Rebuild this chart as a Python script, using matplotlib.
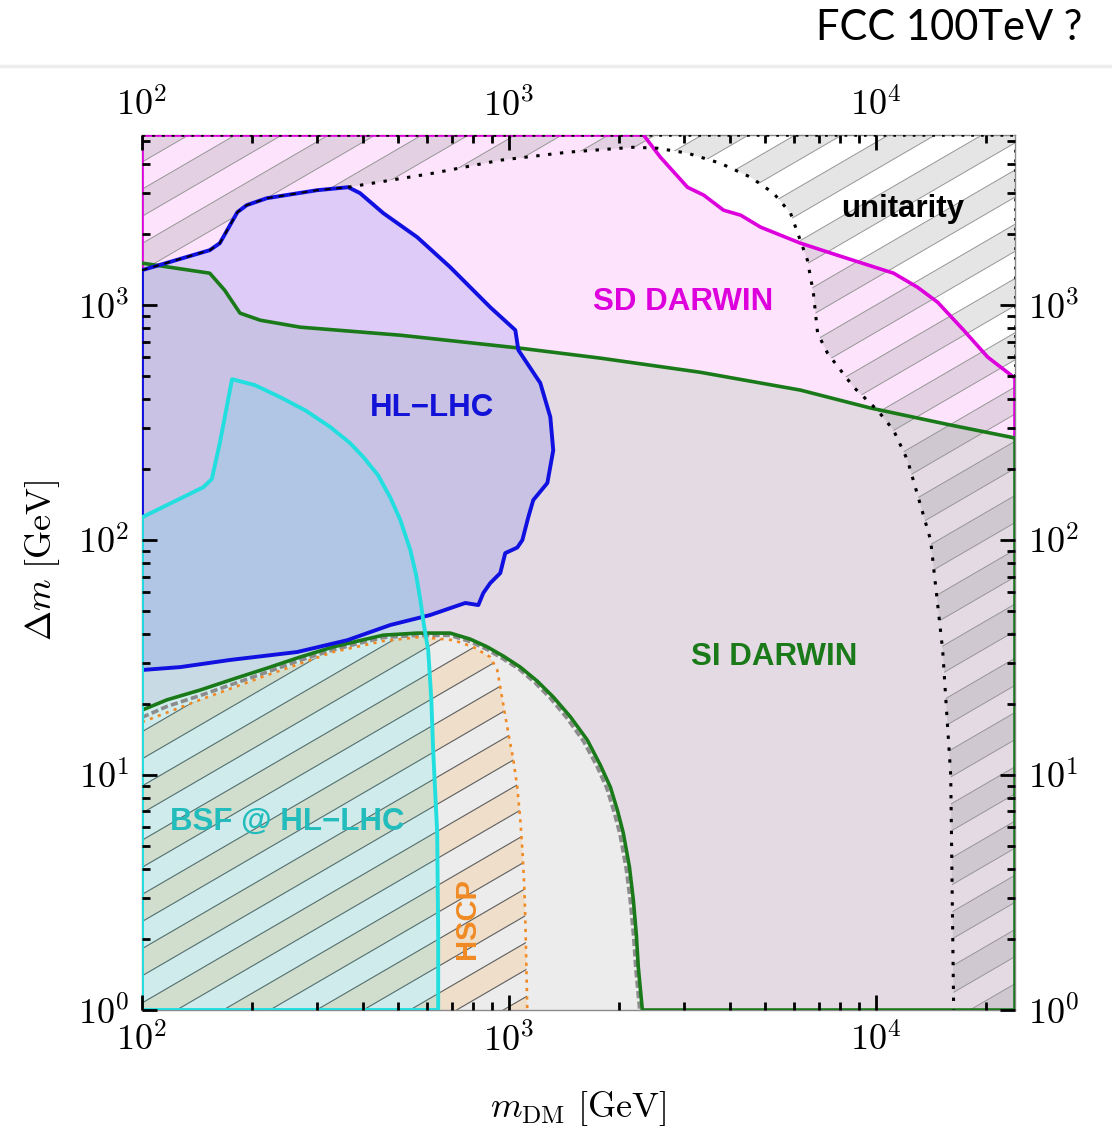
import numpy as np
import matplotlib
matplotlib.use("Agg")
import matplotlib.pyplot as plt
from matplotlib.patches import Polygon
from matplotlib.collections import LineCollection, PolyCollection
from matplotlib.lines import Line2D
from matplotlib.ticker import FixedLocator, FuncFormatter, LogLocator, NullFormatter

plt.rcParams["mathtext.fontset"] = "cm"

XMIN, XMAX = 100.0, 2.4e4
YMIN, YMAX = 1.0, 5300.0

# SD DARWIN reach (magenta), m_DM [GeV] vs Delta m [GeV]
sd_x = [2330, 2590, 3070, 3400, 3850, 4290, 4860, 6240, 8180, 11200, 13000,
        14760, 17380, 20220, 24000]
sd_y = [5300, 4265, 3177, 2940, 2537, 2415, 2148, 1836, 1600, 1368, 1193,
        1030, 783, 601, 489]

# SI DARWIN upper edge (green)
si_x = [100, 153, 168, 185, 210, 270, 506, 1075, 1778, 3330, 6240, 9680,
        16000, 24000]
si_y = [1510, 1368, 1158, 925, 863, 806, 745, 656, 595, 518, 435, 365, 309, 272]

# lower green dome (SI DARWIN lower edge)
dome_x = [100, 117, 144, 177, 219, 270, 332, 388, 455, 563, 692, 785, 874,
          966, 1075, 1196, 1322, 1472, 1637, 1778, 1892, 1977, 2052, 2133,
          2186, 2228, 2255, 2313]
dome_y = [18.9, 20.9, 23.0, 25.6, 28.5, 31.8, 35.1, 37.2, 39.4, 40.2, 40.2,
          37.9, 35.1, 32.1, 28.8, 25.1, 21.5, 17.7, 14.1, 11.0, 8.89, 7.10,
          5.67, 4.06, 2.94, 2.08, 1.52, 1.0]

# grey dashed boundary just inside the dome
gray_x = [100, 117, 144, 177, 219, 270, 332, 388, 455, 563, 692, 785, 874,
          966, 1065, 1180, 1300, 1440, 1600, 1740, 1850, 1935, 2010, 2090,
          2145, 2190, 2220, 2275]
gray_y = [17.6, 19.6, 21.8, 24.4, 27.4, 30.8, 34.1, 36.3, 38.5, 39.3, 39.3,
          37.0, 34.2, 31.2, 28.3, 24.7, 21.2, 17.5, 13.9, 10.9, 8.8, 7.0, 5.6,
          4.0, 2.9, 2.05, 1.5, 1.0]

# HSCP (orange dotted)
hscp_x = [100, 144, 219, 332, 455, 574, 707, 800, 890, 930, 948, 972, 997,
          1029, 1055, 1075, 1089, 1102, 1109, 1116, 1123]
hscp_y = [16.8, 20.9, 26.6, 33.4, 37.2, 38.7, 37.5, 35.1, 31.8, 28.0, 23.7,
          18.9, 15.1, 11.6, 8.89, 6.44, 4.80, 3.40, 2.49, 1.63, 1.0]

# HL-LHC: upper edge (shared with unitarity) and the rest of the contour
hl_top_x = [100, 153, 163, 182, 193, 219, 300, 365]
hl_top_y = [1409, 1714, 1836, 2488, 2665, 2853, 3085, 3177]
hl_x = [393, 455, 563, 692, 890, 1042, 1062, 1219, 1298, 1322, 1274, 1166,
        1130, 1089, 1055, 978, 948, 890, 852, 826, 761, 611, 475, 363, 265,
        174, 127, 100]
hl_y = [2998, 2463, 1946, 1452, 980, 783, 644, 466, 334, 241, 175, 148, 125,
        100, 93, 88, 72.4, 65.6, 59.5, 52.9, 54.0, 48.0, 43.5, 37.5, 33.4,
        30.9, 28.8, 28.0]

# unitarity bound (black dotted), continues from the HL-LHC corner
uni_x = [365, 622, 948, 1445, 2186, 2543, 3070, 3776, 4560, 5270, 5865, 6520,
         6770, 6950, 7395, 8710, 10120, 11190, 12220, 14130, 15240, 16030, 16330]
uni_y = [3177, 3645, 4140, 4477, 4700, 4656, 4436, 4018, 3506, 2998, 2463,
         1554, 1125, 760, 625, 448, 357, 294, 219, 100, 34, 10, 1]

# bound-state formation at HL-LHC (cyan)
bsf_x = [100, 147, 155, 163, 176, 203, 238, 278.5, 326, 369, 401, 440, 475,
         506, 539, 559, 574, 587, 603, 615, 622, 638, 642, 642]
bsf_y = [125, 168, 182, 259, 484, 457, 406, 357, 303, 259, 226, 189, 152,
         122, 90.7, 71, 55.6, 43.5, 34.0, 20.9, 12.8, 5.67, 2.13, 1.0]

MAGENTA = "#dd00dd"
GREEN = "#1a7a1a"
BLUE = "#1010e0"
CYAN = "#22dede"
ORANGE = "#f08a24"


def poly(ax, pts, z, **kw):
    p = Polygon(np.asarray(pts, dtype=float), closed=True, zorder=z,
                transform=ax.transData, **kw)
    ax.add_patch(p)
    return p


def stripes(ax, clip, face, alpha, edge, z, lw=0.7, phase=0.039,
            period=0.062, slope=0.58):
    """Diagonal banded hatching (axes coords) clipped to a region patch."""
    half = period / 2
    k0 = int(np.floor((-slope - period - phase) / period))
    k1 = int(np.ceil((1 + period - phase) / period))
    bands, segs = [], []
    xa, xb = -0.05, 1.05
    for k in range(k0, k1 + 1):
        c = phase + k * period
        bands.append([(xa, c + slope * xa), (xb, c + slope * xb),
                      (xb, c + half + slope * xb), (xa, c + half + slope * xa)])
        segs.append([(xa, c + slope * xa), (xb, c + slope * xb)])
        segs.append([(xa, c + half + slope * xa), (xb, c + half + slope * xb)])
    pc = PolyCollection(bands, transform=ax.transAxes, facecolors=face,
                        alpha=alpha, edgecolors="none", zorder=z)
    lc = LineCollection(segs, transform=ax.transAxes, colors=edge,
                        linewidths=lw, zorder=z + 0.01)
    ax.add_collection(pc)
    ax.add_collection(lc)
    pc.set_clip_path(clip)
    lc.set_clip_path(clip)


fig = plt.figure(figsize=(11.12, 11.30), dpi=100)
ax = fig.add_axes([142 / 1112, 120 / 1130, 873 / 1112, 875 / 1130])
ax.set_xscale("log")
ax.set_yscale("log")

# --- filled regions -------------------------------------------------------
sd_pts = ([(XMIN, YMIN), (XMIN, YMAX)] + list(zip(sd_x, sd_y)) +
          [(XMAX, YMIN)])
poly(ax, sd_pts, 1.0, facecolor="#fde4fc", edgecolor="none")

si_pts = (list(zip(si_x, si_y)) + [(XMAX, YMIN)] +
          list(zip(dome_x, dome_y))[::-1])
poly(ax, si_pts, 1.1, facecolor="#e4dae4", edgecolor="none")

dome_pts = list(zip(dome_x, dome_y)) + [(XMIN, YMIN)]
poly(ax, dome_pts, 1.2, facecolor="#ececec", edgecolor="none")

hscp_pts = list(zip(hscp_x, hscp_y)) + [(XMIN, YMIN)]
hscp_clip = poly(ax, hscp_pts, 1.3, facecolor="none", edgecolor="none")
stripes(ax, hscp_clip, "#ff8c00", 0.14, "#5e5e5e", 1.3, lw=0.8)

uni_pts = (list(zip(hl_top_x, hl_top_y)) + list(zip(uni_x, uni_y))[1:] +
           [(XMAX, YMIN), (XMAX, YMAX), (XMIN, YMAX)])
uni_clip = poly(ax, uni_pts, 1.4, facecolor="none", edgecolor="none")
stripes(ax, uni_clip, "#808080", 0.2, "#969696", 1.4)

hl_pts = list(zip(hl_top_x, hl_top_y)) + list(zip(hl_x, hl_y))
poly(ax, hl_pts, 1.5, facecolor=(70 / 255, 80 / 255, 230 / 255), alpha=0.17,
     edgecolor="none")

bsf_pts = list(zip(bsf_x, bsf_y)) + [(XMIN, YMIN)]
poly(ax, bsf_pts, 1.6, facecolor=(0, 230 / 255, 230 / 255), alpha=0.12,
     edgecolor="none")

# --- boundary lines -------------------------------------------------------
ax.plot([XMIN, XMIN] + sd_x + [XMAX],
        [hl_top_y[0], YMAX] + sd_y + [si_y[-1]],
        color=MAGENTA, lw=2.6, zorder=2.0, solid_joinstyle="round")
ax.plot(si_x, si_y, color=GREEN, lw=2.6, zorder=2.05, solid_joinstyle="round")
ax.plot(gray_x, gray_y, color="#8c8c8c", lw=2.6, ls=(0, (2.0, 0.9)),
        zorder=2.1)
ax.plot(hscp_x, hscp_y, color=ORANGE, lw=1.9, ls=(0, (1.2, 2.0)), zorder=2.1)
ax.plot(dome_x + [XMAX, XMAX], dome_y + [YMIN, si_y[-1]], color=GREEN, lw=2.6,
        zorder=2.15, solid_joinstyle="round")
ax.plot(hl_top_x + hl_x + [hl_top_x[0]], hl_top_y + hl_y + [hl_top_y[0]],
        color=BLUE, lw=2.8, zorder=2.2, solid_joinstyle="round")
ax.plot(hl_top_x, hl_top_y, color="black", lw=1.4, ls=(0, (3, 3)), zorder=2.25)
ax.plot(uni_x, uni_y, color="black", lw=2.2, ls=(0, (1.1, 2.8)), zorder=2.25)
ax.plot([XMIN, XMAX, XMAX], [YMAX, YMAX, sd_y[-1]], color="black", lw=1.8,
        ls=(0, (1.1, 2.8)), zorder=2.26)
ax.plot(bsf_x + [XMIN, XMIN], bsf_y + [YMIN, bsf_y[0]], color=CYAN, lw=2.8,
        zorder=2.3, solid_joinstyle="round")

# --- region labels --------------------------------------------------------
lab = dict(family=["Liberation Sans", "DejaVu Sans"], weight="bold",
           ha="center", va="center", zorder=3)
ax.text(11850, 2563, "unitarity", color="black", fontsize=22.5, **lab)
ax.text(2994, 1030, "SD DARWIN", color=MAGENTA, fontsize=22.5, **lab)
ax.text(618, 365, "HL\u2212LHC", color="#1212d8", fontsize=22.5, **lab)
ax.text(5300, 31.8, "SI DARWIN", color=GREEN, fontsize=22.5, **lab)
ax.text(249, 6.31, "BSF @ HL\u2212LHC", color="#22bcbc", fontsize=22.5, **lab)
ax.text(771, 2.46, "HSCP", color=ORANGE, rotation=90, fontsize=21, **lab)

# --- axes -----------------------------------------------------------------
ax.set_xlim(XMIN, XMAX)
ax.set_ylim(YMIN, YMAX)
ax.set_axisbelow(False)
for sp in ax.spines.values():
    sp.set_color("#8a8a8a")
    sp.set_linewidth(1.0)
    sp.set_zorder(1.9)

pow10 = FuncFormatter(lambda v, pos: r"$10^{%d}$" % round(np.log10(v)))
ax.xaxis.set_major_locator(FixedLocator([1e2, 1e3, 1e4]))
ax.yaxis.set_major_locator(FixedLocator([1e0, 1e1, 1e2, 1e3]))
for axis in (ax.xaxis, ax.yaxis):
    axis.set_major_formatter(pow10)
    axis.set_minor_locator(LogLocator(base=10, subs=np.arange(2, 10)))
    axis.set_minor_formatter(NullFormatter())
ax.tick_params(which="both", direction="in", top=True, right=True,
               labeltop=True, labelright=True, color="black", width=2.0,
               labelsize=26, pad=9)
ax.tick_params(which="major", length=11)
ax.tick_params(which="minor", length=5.5)

fig.text(578 / 1112, 1 - 1108 / 1130, r"$m_{\rm DM}\ [\mathrm{GeV}]$",
         fontsize=26, ha="center", va="center")
fig.text(42 / 1112, 1 - 560 / 1130, r"$\Delta m\ [\mathrm{GeV}]$",
         fontsize=26, ha="center", va="center", rotation=90)

# header strip
fig.text(1082 / 1112, 1 - 28 / 1130, "FCC 100TeV ?", ha="right", va="center",
         fontsize=30, family=["Lato", "DejaVu Sans"])
fig.add_artist(Line2D([0, 1], [1 - 66 / 1130] * 2, transform=fig.transFigure,
                      color="#ededed", lw=2.5))

fig.savefig("out.png", dpi=100)
